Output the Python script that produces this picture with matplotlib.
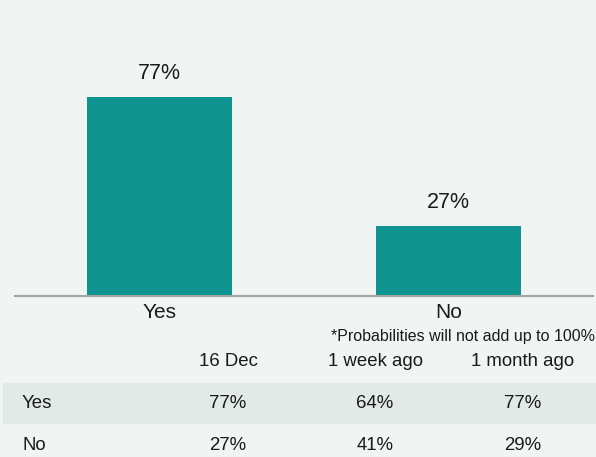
import numpy as np
import matplotlib
matplotlib.use('Agg')
import matplotlib.pyplot as plt
from matplotlib.patches import Rectangle

# data
answers = ['Yes', 'No']
latest = [77, 27]
columns = ['16 Dec', '1 week ago', '1 month ago']
table_yes = [77, 64, 77]
table_no = [27, 41, 29]
note = '*Probabilities will not add up to 100%'

W, H = 596, 457
bg = '#f0f4f3'
teal = '#109490'

plt.rcParams['font.family'] = ['Liberation Sans', 'DejaVu Sans']

fig = plt.figure(figsize=(W / 100, H / 100), dpi=100, facecolor=bg)

def fx(px):
    return px / W

def fy(py):
    return 1 - py / H

# bar chart
ax = fig.add_axes([fx(15), fy(296), fx(593) - fx(15), fy(38) - fy(296)])
ax.set_facecolor(bg)
x = np.arange(len(answers))
ax.bar(x, latest, width=0.5, color=teal)
for xi, v in zip(x, latest):
    ax.text(xi, v + 5, f'{v}%', ha='center', va='bottom', fontsize=15.5, color='#1a1a1a')
ax.set_xlim(-0.5, 1.5)
ax.set_ylim(0, 100)
ax.set_yticks([])
ax.set_xticks(x)
ax.set_xticklabels(answers, fontsize=15, color='#1a1a1a')
ax.tick_params(axis='x', length=0, pad=5)
for s in ['top', 'right', 'left']:
    ax.spines[s].set_visible(False)
ax.spines['bottom'].set_color('#a0a4a3')
ax.spines['bottom'].set_linewidth(1.5)

# footnote
fig.text(fx(595), fy(336), note, ha='right', va='center', fontsize=11.5, color='#1a1a1a')

# table
col_x = [228, 375, 523]
fig.patches.append(Rectangle((fx(3), fy(424)), fx(596) - fx(3), fy(383) - fy(424),
                             transform=fig.transFigure, facecolor='#e2eae8', edgecolor='none'))
for cx, c in zip(col_x, columns):
    fig.text(fx(cx), fy(361), c, ha='center', va='center', fontsize=13.4, color='#1a1a1a')
rows = [('Yes', table_yes, 404), ('No', table_no, 445)]
for label, vals, ry in rows:
    fig.text(fx(22), fy(ry), label, ha='left', va='center', fontsize=13.4, color='#1a1a1a')
    for cx, v in zip(col_x, vals):
        fig.text(fx(cx), fy(ry), f'{v}%', ha='center', va='center', fontsize=13.4, color='#1a1a1a')

fig.savefig('out.png', dpi=100, facecolor=bg)
